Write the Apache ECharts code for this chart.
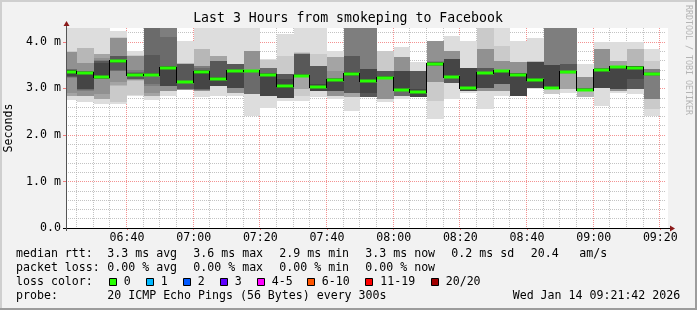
<!DOCTYPE html>
<html><head><meta charset="utf-8">
<script src="https://cdn.jsdelivr.net/npm/echarts@6/dist/echarts.min.js"></script>
<style>html,body{margin:0;padding:0;background:#f2f2f2}#c{width:697px;height:310px}</style>
</head><body><div id="c"></div>
<script>
// ---------------- data ----------------
const titleText = 'Last 3 Hours from smokeping to Facebook';
const axisStart = '06:21:42';
const axisEnd = '09:21:42';
const binMinutes = 5;
const binStart = ['06:20','06:25','06:30','06:35','06:40','06:45','06:50','06:55','07:00','07:05','07:10','07:15',
  '07:20','07:25','07:30','07:35','07:40','07:45','07:50','07:55','08:00','08:05','08:10','08:15',
  '08:20','08:25','08:30','08:35','08:40','08:45','08:50','08:55','09:00','09:05','09:10','09:15'];
const medians = [3.36,3.33,3.25,3.58,3.30,3.30,3.45,3.14,3.35,3.21,3.37,3.37,3.30,3.05,3.27,3.04,3.19,3.31,3.15,3.23,
  2.97,2.93,3.53,3.25,3.01,3.33,3.37,3.30,3.19,3.01,3.35,2.97,3.40,3.47,3.45,3.31];
// 20 sorted ping RTTs (ms) per 5-minute step
const pings = [
 [2.75,2.84,2.84,2.84,2.91,3.22,3.24,3.25,3.27,3.33,3.39,3.40,3.40,3.41,3.41,3.78,3.78,3.79,3.80,4.50],
 [2.70,2.84,2.84,2.84,2.84,2.95,2.97,2.99,2.99,3.31,3.35,3.36,3.37,3.38,3.38,3.54,3.54,3.87,3.87,4.50],
 [2.66,2.77,2.77,2.77,2.88,3.20,3.20,3.21,3.22,3.23,3.27,3.55,3.60,3.60,3.62,3.65,3.74,3.74,3.74,4.50],
 [2.66,2.70,3.06,3.08,3.13,3.38,3.38,3.40,3.55,3.56,3.60,3.62,3.70,3.70,3.70,4.09,4.09,4.09,4.10,4.24],
 [2.84,2.86,3.17,3.18,3.19,3.20,3.20,3.21,3.27,3.28,3.32,3.33,3.34,3.36,3.40,3.70,3.70,3.70,3.72,3.80],
 [2.75,2.84,2.84,2.84,2.91,3.05,3.10,3.27,3.28,3.29,3.31,3.33,3.73,4.50,4.50,4.50,4.50,4.50,4.50,4.50],
 [2.84,2.95,2.95,2.95,2.95,3.06,3.06,3.06,3.06,3.43,3.47,3.48,3.49,4.10,4.50,4.50,4.50,4.50,4.50,4.50],
 [2.97,2.97,2.97,2.97,2.97,2.98,2.99,2.99,3.11,3.12,3.16,3.17,3.53,3.53,3.53,3.53,3.53,3.54,3.55,4.02],
 [2.81,2.95,2.95,2.95,2.95,2.96,2.97,2.99,2.99,3.32,3.38,3.39,3.40,3.45,3.49,3.49,3.49,3.85,3.85,4.50],
 [2.84,3.06,3.06,3.06,3.06,3.06,3.06,3.06,3.06,3.19,3.23,3.24,3.60,3.60,3.60,3.60,3.70,3.70,3.70,4.50],
 [2.84,2.91,2.91,2.91,2.91,3.02,3.02,3.02,3.02,3.35,3.39,3.40,3.53,3.53,3.53,3.53,3.53,3.53,3.53,4.50],
 [2.41,2.88,2.88,2.88,2.88,2.88,2.88,3.35,3.36,3.36,3.38,3.39,3.39,3.40,3.40,3.81,3.81,3.81,3.81,4.50],
 [2.59,2.84,2.84,2.84,2.84,2.84,2.84,2.84,2.84,3.27,3.32,3.33,3.33,3.45,3.45,3.45,3.45,3.45,3.62,3.63],
 [2.72,2.80,2.80,2.80,2.80,2.80,2.80,2.80,2.80,3.02,3.08,3.20,3.31,3.31,3.31,3.31,3.31,3.31,3.70,4.17],
 [2.73,2.84,2.99,2.99,3.24,3.25,3.25,3.25,3.25,3.26,3.29,3.31,3.74,3.74,3.74,3.74,3.76,3.76,3.78,4.50],
 [2.81,2.95,2.95,2.95,2.95,2.95,2.95,2.95,2.95,3.02,3.06,3.10,3.49,3.49,3.49,3.49,3.49,3.49,3.74,4.50],
 [2.77,2.84,2.84,2.84,2.84,2.95,2.95,2.95,2.95,3.17,3.21,3.21,3.22,3.22,3.22,3.38,3.67,3.67,3.67,3.81],
 [2.52,2.81,2.81,2.81,2.91,2.91,2.91,2.91,3.27,3.29,3.33,3.35,3.70,3.70,4.50,4.50,4.50,4.50,4.50,4.50],
 [2.81,2.81,2.81,2.81,2.81,2.81,2.81,2.81,2.91,3.13,3.17,3.42,3.42,3.42,4.50,4.50,4.50,4.50,4.50,4.50],
 [2.70,2.77,2.77,2.77,2.77,3.20,3.21,3.21,3.21,3.22,3.24,3.26,3.38,3.38,3.38,3.38,3.38,3.38,3.80,3.81],
 [2.77,2.84,2.84,2.84,2.84,2.84,2.84,2.95,2.95,2.96,2.98,3.38,3.38,3.38,3.38,3.67,3.67,3.67,3.67,3.90],
 [2.82,2.82,2.82,2.82,2.82,2.82,2.82,2.82,2.82,2.91,2.95,2.99,3.38,3.38,3.38,3.38,3.38,3.38,3.38,3.56],
 [2.34,2.73,3.13,3.13,3.13,3.49,3.49,3.50,3.51,3.52,3.55,3.56,3.56,3.57,3.58,4.03,4.03,4.03,4.03,4.03],
 [2.77,3.11,3.11,3.11,3.11,3.11,3.11,3.11,3.22,3.23,3.27,3.63,3.63,3.63,3.63,3.81,3.81,3.81,3.81,4.13],
 [2.91,2.95,2.95,2.95,2.95,2.95,2.95,2.95,2.95,2.99,3.03,3.45,3.45,3.45,3.45,3.45,3.45,3.45,3.45,4.03],
 [2.56,2.95,2.95,2.95,2.95,3.02,3.02,3.02,3.02,3.31,3.35,3.35,3.45,3.45,3.45,3.85,3.85,3.85,4.50,4.50],
 [2.84,2.95,2.95,2.95,2.95,3.10,3.10,3.10,3.10,3.35,3.39,3.40,3.40,3.40,3.40,3.60,3.60,3.60,3.92,4.50],
 [2.84,2.84,2.84,2.84,2.84,2.84,2.84,2.84,2.84,3.27,3.32,3.33,3.33,3.33,3.33,3.56,3.56,3.56,3.56,4.03],
 [2.99,3.02,3.02,3.02,3.02,3.02,3.02,3.02,3.02,3.17,3.21,3.56,3.56,3.56,3.56,3.56,3.56,3.60,3.60,4.09],
 [2.88,2.88,2.99,2.99,2.99,2.99,2.99,2.99,2.99,3.00,3.03,3.51,3.51,3.51,4.50,4.50,4.50,4.50,4.50,4.50],
 [2.91,2.99,2.99,2.99,3.32,3.33,3.33,3.33,3.33,3.34,3.37,3.38,3.53,3.53,4.50,4.50,4.50,4.50,4.50,4.50],
 [2.81,2.81,2.81,2.95,2.96,2.96,2.96,2.96,2.96,2.96,2.98,2.99,3.00,3.01,3.02,3.24,3.24,3.24,3.24,3.53],
 [2.63,3.02,3.02,3.02,3.02,3.02,3.02,3.02,3.02,3.38,3.42,3.42,3.45,3.45,3.45,3.85,3.85,3.85,3.85,4.00],
 [2.91,2.95,2.95,2.95,2.95,2.99,2.99,2.99,2.99,3.45,3.49,3.49,3.49,3.49,3.49,3.49,3.60,3.60,3.60,4.00],
 [2.88,2.99,2.99,2.99,2.99,2.99,2.99,2.99,3.20,3.42,3.48,3.49,3.49,3.49,3.49,3.49,3.49,3.85,3.85,4.00],
 [2.41,2.56,2.77,2.77,2.77,2.77,3.27,3.28,3.29,3.30,3.33,3.34,3.34,3.35,3.42,3.42,3.42,3.42,3.60,3.85]
];
const xTickLabels = ['06:40','07:00','07:20','07:40','08:00','08:20','08:40','09:00','09:20'];
const yMax = 4.3;
const yInterval = 1;
const legendLine1 = [['median rtt:',0],['3.3 ms avg',1],['3.6 ms max',2],['2.9 ms min',3],['3.3 ms now',4],['0.2 ms sd',5],['20.4',6],['am/s',7]];
const legendLine2 = [['packet loss:',0],['0.00 % avg',1],['0.00 % max',2],['0.00 % min',3],['0.00 % now',4]];
const lossLabels = ['0','1','2','3','4-5','6-10','11-19','20/20'];
const lossColors = ['#26ff00','#00b8ff','#0059ff','#5e00ff','#ff00ff','#ff5500','#ff0000','#a10000'];
const probeText = '20 ICMP Echo Pings (56 Bytes) every 300s';
const dateText = 'Wed Jan 14 09:21:42 2026';
const sideText = 'RRDTOOL / TOBI OETIKER';

// --------------- helpers ---------------
function toMin(s){ const p=s.split(':').map(Number); return (p[0]-6)*60 + p[1] + (p[2]||0)/60; }
function fmtMin(v){ const t=Math.round(v)+360; const h=Math.floor(t/60), m=t%60; return (h<10?'0':'')+h+':'+(m<10?'0':'')+m; }
const xMin = toMin(axisStart), xMax = toMin(axisEnd);
const binData = binStart.map((s,i)=>[toMin(s), toMin(s)+binMinutes, medians[i]]);
const majorX = xTickLabels.map(toMin);
const minorX = [];
for (let i=0;i<binStart.length;i++){ const v=toMin(binStart[i]); if (v>xMin && majorX.indexOf(v)<0) minorX.push(v); }
const gridData = majorX.map(v=>[v,1]).concat(minorX.map(v=>[v,0]));

const FONT = 'DejaVu Sans Mono';
const FS = 11.6;
const G = {left:66, top:28, width:600, height:200};

const chart = echarts.init(document.getElementById('c'), null, {renderer:'canvas'});

function clip(r, cs){ return echarts.graphic.clipRectByRect(r, {x:cs.x, y:cs.y, width:cs.width, height:cs.height}); }

function renderSmoke(params, api){
  const i = params.dataIndex;
  const p = pings[i];
  const x0 = api.value(0), x1 = api.value(1);
  const cs = params.coordSys;
  const children = [];
  for (let k=0;k<10;k++){
    const lo=p[k], hi=p[19-k];
    if (!(hi>lo)) continue;
    const a=api.coord([x0,hi]), b=api.coord([x1,lo]);
    const ax=Math.round(a[0]), bx=Math.round(b[0]), ay=Math.round(a[1]), by=Math.round(b[1]);
    let r={x:ax,y:ay,width:bx-ax,height:by-ay};
    if (r.height<=0) continue;
    r = clip(r, cs);
    if (!r) continue;
    const g = Math.floor(190/10*(10-(k+1)))+50;
    children.push({type:'rect', shape:r, style:{fill:'rgb('+g+','+g+','+g+')'}});
  }
  return {type:'group', children};
}

function renderMedian(params, api){
  const i = params.dataIndex;
  const x0=api.value(0), x1=api.value(1), m=api.value(2);
  const cs = params.coordSys;
  const a=api.coord([x0,m]), b=api.coord([x1,m]);
  const children=[];
  const ax=Math.max(Math.round(a[0]), cs.x), bx=Math.round(b[0]);
  const y=Math.round(a[1]);
  if (i>0){
    const c=api.coord([x0,medians[i-1]]);
    const yc=Math.round(c[1]);
    children.push({type:'line', shape:{x1:ax-0.5,y1:Math.min(y,yc)-1,x2:ax-0.5,y2:Math.max(y,yc)+1}, style:{stroke:'#000',lineWidth:1}});
  }
  children.push({type:'rect', shape:{x:ax,y:y-1.5,width:bx-ax,height:3}, style:{fill:lossColors[0]}});
  return {type:'group', children};
}

function renderGrid(params, api){
  const v=api.value(0), major=api.value(1);
  const cs=params.coordSys;
  const x=Math.round(api.coord([v,0])[0])-0.5;
  return {type:'line', shape:{x1:x,y1:cs.y,x2:x,y2:cs.y+cs.height},
    style:{stroke: major? 'rgba(240,110,110,0.75)':'rgba(170,170,170,0.7)', lineWidth:1, lineDash:[1,1]}};
}

const graphics = [];
// frame
graphics.push({type:'rect', shape:{x:0,y:0,width:697,height:2}, style:{fill:'#cfcfcf'}, z:0});
graphics.push({type:'rect', shape:{x:0,y:0,width:2,height:310}, style:{fill:'#cfcfcf'}, z:0});
graphics.push({type:'rect', shape:{x:0,y:308,width:697,height:2}, style:{fill:'#9c9c9c'}, z:0});
graphics.push({type:'rect', shape:{x:695,y:0,width:2,height:310}, style:{fill:'#9c9c9c'}, z:0});
// plot area extension to the right (white)
graphics.push({type:'rect', shape:{x:G.left+G.width,y:G.top,width:2,height:G.height}, style:{fill:'#fff'}, z:0});
// axes lines
graphics.push({type:'line', shape:{x1:G.left-3, y1:G.top+G.height+0.5, x2:G.left+G.width+5, y2:G.top+G.height+0.5}, style:{stroke:'#000',lineWidth:1}, z:50});
graphics.push({type:'line', shape:{x1:G.left+0.5, y1:G.top+G.height+3, x2:G.left+0.5, y2:G.top-5}, style:{stroke:'#555',lineWidth:1}, z:50});
// arrows
graphics.push({type:'polygon', shape:{points:[[G.left+G.width+4, G.top+G.height-2.5],[G.left+G.width+9, G.top+G.height+0.5],[G.left+G.width+4, G.top+G.height+3.5]]}, style:{fill:'#8b1a1a'}, z:51});
graphics.push({type:'polygon', shape:{points:[[G.left-2.5, G.top-2],[G.left+0.5, G.top-7],[G.left+3.5, G.top-2]]}, style:{fill:'#8b1a1a'}, z:51});
// title
graphics.push({type:'text', x:348, y:19, style:{text:titleText, font:'13.2px "'+FONT+'"', fill:'#000', align:'center', verticalAlign:'middle'}, z:60});
// side text
graphics.push({type:'text', x:688, y:60, rotation:-Math.PI/2, style:{text:sideText, font:'8.3px "'+FONT+'"', fill:'#b4b4b4', align:'center', verticalAlign:'middle'}, z:60});
// legend
const colX = [16, 107.3, 193.3, 279.3, 365.3, 451.3, 530.7, 579.3];
const rowY = [254, 268, 282, 296];
function txt(x,y,s){ graphics.push({type:'text', x:x, y:y, style:{text:s, font:FS+'px "'+FONT+'"', fill:'#000', align:'left', verticalAlign:'middle'}, z:60}); }
legendLine1.forEach(([s,c])=>txt(colX[c], rowY[0], s));
legendLine2.forEach(([s,c])=>txt(colX[c], rowY[1], s));
txt(16, rowY[2], 'loss color:');
const boxX = [108.7,145.7,182.7,219.7,256.7,306.7,365.3,430.7];
lossLabels.forEach((s,i)=>{
  graphics.push({type:'rect', shape:{x:Math.round(boxX[i])+0.5, y:278.5, width:7, height:7}, style:{fill:lossColors[i], stroke:'#000', lineWidth:1}, z:60});
  txt(boxX[i]+15, rowY[2], s);
});
txt(16, rowY[3], 'probe:');
txt(107.3, rowY[3], probeText);
txt(512.7, rowY[3], dateText);

chart.setOption({
  animation:false,
  backgroundColor:'#f2f2f2',
  grid:{left:G.left, top:G.top, width:G.width, height:G.height, show:true, backgroundColor:'#fff', borderWidth:0,
    containLabel:false, outerBoundsMode:'none'},
  xAxis:{type:'value', min:xMin, max:xMax,
    axisLine:{show:false},
    axisTick:{show:true, customValues:majorX, length:2, lineStyle:{color:'rgba(240,110,110,0.9)'}},
    axisLabel:{customValues:majorX, formatter:fmtMin, fontFamily:FONT, fontSize:FS, color:'#000', margin:4},
    splitLine:{show:false}},
  yAxis:{type:'value', min:0, max:yMax, interval:yInterval,
    name:'Seconds', nameLocation:'middle', nameGap:50, nameTextStyle:{fontFamily:FONT, fontSize:FS, color:'#000'},
    axisLine:{show:false},
    axisTick:{show:true, length:3, lineStyle:{color:'rgba(240,110,110,0.9)'}},
    axisLabel:{showMaxLabel:false, fontFamily:FONT, fontSize:FS, color:'#000', margin:5,
      formatter:v=> v===0 ? '0.0' : v.toFixed(1)+' m'},
    splitLine:{show:true, showMaxLine:false, lineStyle:{color:'rgba(240,110,110,0.75)', type:[1,1]}},
    minorTick:{show:false, splitNumber:5},
    minorSplitLine:{show:true, lineStyle:{color:'rgba(170,170,170,0.7)', type:[1,1]}}},
  series:[
    {type:'custom', name:'grid', z:1, silent:true, renderItem:renderGrid, data:gridData, encode:{x:0}},
    {type:'custom', name:'smoke', z:2, silent:true, renderItem:renderSmoke, data:binData, encode:{x:[0,1], y:2}},
    {type:'custom', name:'median', z:3, silent:true, renderItem:renderMedian, data:binData, encode:{x:[0,1], y:2}}
  ],
  graphic:{elements:graphics}
});
</script></body></html>
